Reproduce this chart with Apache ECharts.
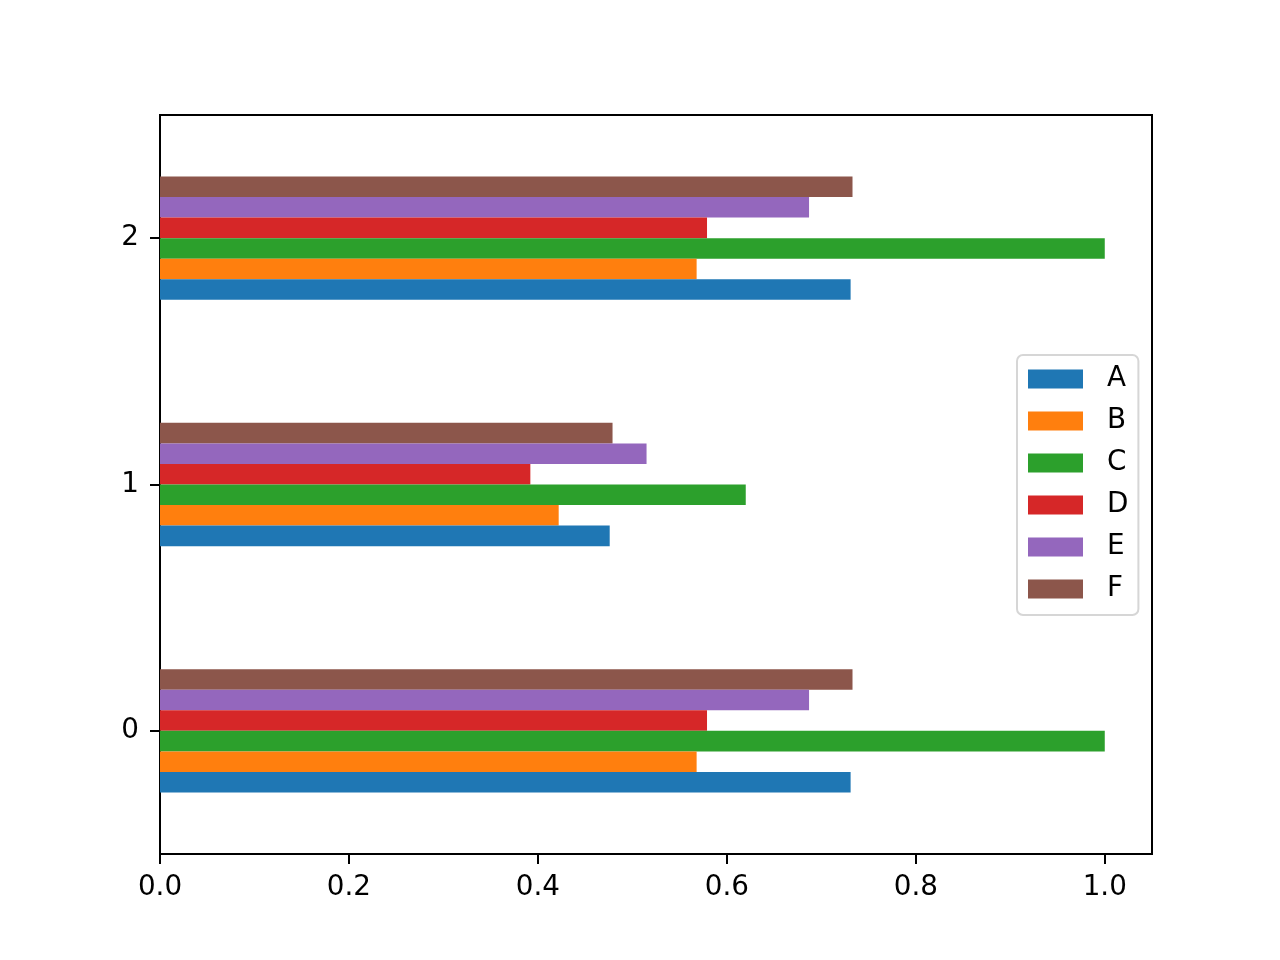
<!DOCTYPE html>
<html>
<head>
<meta charset="utf-8">
<script src="https://cdn.jsdelivr.net/npm/echarts@6/dist/echarts.min.js"></script>
<style>html,body{margin:0;padding:0;background:#fff}#c{width:1280px;height:960px}</style>
</head>
<body>
<div id="c"></div>
<script>
const categories = ['0', '1', '2'];
const seriesNames = ['A', 'B', 'C', 'D', 'E', 'F'];
const valuesA = [0.731, 0.476, 0.731];
const valuesB = [0.568, 0.422, 0.568];
const valuesC = [1.000, 0.620, 1.000];
const valuesD = [0.579, 0.392, 0.579];
const valuesE = [0.687, 0.515, 0.687];
const valuesF = [0.733, 0.479, 0.733];
const colors = ['#1f77b4', '#ff7f0e', '#2ca02c', '#d62728', '#9467bd', '#8c564b'];

const allValues = [valuesA, valuesB, valuesC, valuesD, valuesE, valuesF];
const font = 'DejaVu Sans';
const fs = 27.8;

// ECharts stacks horizontal bars top-down in series order; matplotlib draws A at the bottom,
// so series are added in reverse order (legend keeps A..F order).
const series = seriesNames.map((name, i) => ({
  name: name,
  type: 'bar',
  data: allValues[i],
  barWidth: 20.55,
  barGap: '0%',
  itemStyle: { color: colors[i] },
  emphasis: { disabled: true },
  animation: false
})).reverse();

const chart = echarts.init(document.getElementById('c'), null, { renderer: 'canvas' });
chart.setOption({
  animation: false,
  grid: { left: 160, top: 115, right: 128, bottom: 106, show: true, borderColor: '#000', borderWidth: 2, backgroundColor: 'transparent' },
  legend: {
    data: seriesNames,
    orient: 'vertical',
    left: 1017,
    top: 355,
    padding: [10, 10, 12, 11],
    itemWidth: 55,
    itemHeight: 19,
    itemGap: 14,
    borderColor: '#d6d6d6',
    borderWidth: 2,
    borderRadius: 6,
    backgroundColor: '#fff',
    icon: 'rect',
    selectedMode: false,
    textStyle: { fontFamily: font, fontSize: fs, color: '#000', padding: [0, 0, 0, 19] }
  },
  xAxis: {
    type: 'value',
    min: 0,
    max: 1.05,
    interval: 0.2,
    splitLine: { show: false },
    axisLine: { show: true, lineStyle: { color: '#000', width: 2 } },
    axisTick: { show: true, length: 10, lineStyle: { color: '#000', width: 2 } },
    axisLabel: { showMaxLabel: false, margin: 20, fontFamily: font, fontSize: fs, color: '#000', formatter: v => v.toFixed(1) }
  },
  yAxis: {
    type: 'category',
    data: categories,
    axisLine: { show: true, lineStyle: { color: '#000', width: 2 } },
    axisTick: { show: true, alignWithLabel: true, length: 10, lineStyle: { color: '#000', width: 2 } },
    axisLabel: { margin: 21, fontFamily: font, fontSize: fs, color: '#000' }
  },
  series: series
});
</script>
</body>
</html>
